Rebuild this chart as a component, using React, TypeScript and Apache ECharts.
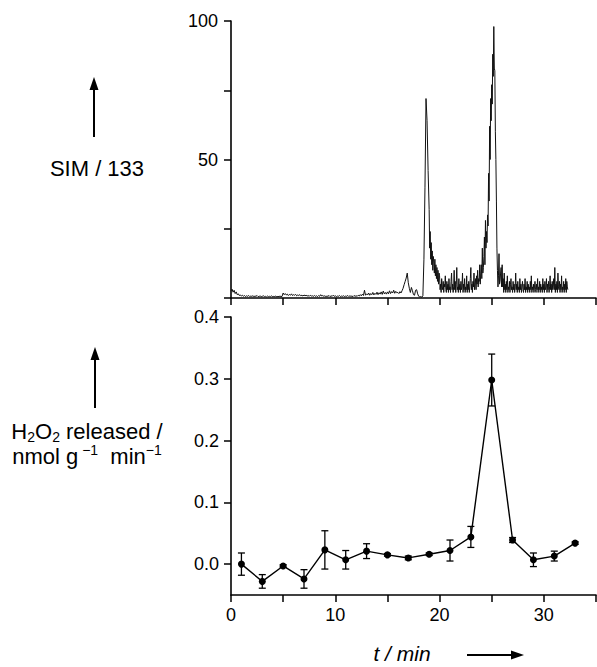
import React, { useEffect, useRef } from 'react';
import * as echarts from 'echarts';

// ---- SIM / 133 trace: each segment has its own start time and sampling step (min) ----
// 0.0 – 4.9 min, step 0.1
const simSeg1 = [
  2.5, 3.2, 2.1, 2.8, 1.6, 2.2, 1.2, 1.5, 0.9, 1.1,
  0.7, 1.0, 0.6, 0.9, 0.5, 0.8, 0.6, 0.9, 0.5, 0.7,
  0.6, 0.8, 0.5, 0.7, 0.6, 0.9, 0.5, 0.6, 0.7, 0.5,
  0.6, 0.8, 0.5, 0.6, 0.4, 0.7, 0.5, 0.6, 0.5, 0.8,
  0.4, 0.6, 0.5, 0.7, 0.4, 0.6, 0.5, 0.7, 0.5, 0.6,
];
// 5.0 – 9.9 min, step 0.1
const simSeg2 = [
  1.8, 1.2, 1.6, 1.1, 1.4, 0.9, 1.3, 1.0, 1.5, 0.9,
  1.2, 1.0, 1.3, 0.8, 1.1, 0.9, 1.2, 0.8, 1.0, 0.7,
  1.1, 0.8, 1.0, 0.7, 0.9, 0.6, 1.0, 0.7, 0.8, 0.6,
  0.9, 0.6, 0.8, 0.5, 0.9, 0.6, 1.2, 0.7, 0.9, 0.6,
  0.8, 0.5, 0.7, 0.6, 0.9, 0.5, 0.8, 0.6, 1.0, 0.6,
];
// 10.0 – 14.9 min, step 0.1
const simSeg3 = [
  0.8, 0.5, 0.7, 0.6, 0.9, 0.5, 0.7, 0.6, 0.8, 0.5,
  0.7, 0.6, 0.9, 0.5, 0.8, 0.6, 0.7, 0.5, 0.9, 0.6,
  0.8, 0.6, 1.0, 0.7, 1.2, 0.8, 1.4, 0.9, 2.8, 1.0,
  1.5, 1.1, 1.8, 1.0, 1.6, 1.2, 2.0, 1.1, 1.7, 1.3,
  2.1, 1.2, 1.9, 1.4, 2.2, 1.3, 2.5, 1.5, 2.0, 1.4,
];
// 15.0 – 18.4 min, step 0.1
const simSeg4 = [
  2.2, 1.5, 2.6, 1.6, 2.3, 1.8, 2.8, 1.7, 2.4, 1.9,
  2.0, 1.6, 2.3, 1.8, 2.6, 3.5, 4.8, 6.0, 7.2, 9.0,
  5.5, 3.5, 2.0, 3.8, 2.6, 1.2, 1.0, 2.8, 3.0, 1.5,
  0.6, 0.4, 0.5, 0.3, 0.8,
];
// 18.5 – 18.9 min, step 0.1
const simSeg5 = [14, 40, 72, 64, 46];
// 19.0 – 19.95 min, step 0.05
const simSeg6 = [32, 18, 24, 14, 20, 12, 17, 10, 15, 13, 9, 14, 8, 12, 7, 11, 6, 10, 5, 9];
// 20.0 – 23.95 min, step 0.05
const simSeg7 = [
  8, 3, 5, 2, 7, 4, 3, 6, 2, 5,
  4, 8, 3, 2, 6, 3, 5, 2, 7, 3,
  4, 2, 6, 9, 3, 5, 2, 4, 10, 3,
  6, 2, 5, 11, 3, 4, 2, 7, 3, 5,
  2, 6, 3, 4, 9, 2, 5, 3, 7, 2,
  4, 3, 8, 2, 5, 3, 6, 2, 4, 7,
  11, 3, 5, 2, 6, 4, 9, 3, 5, 7,
  3, 8, 5, 10, 4, 7, 6, 12, 5, 9,
];
// 24.0 – 25.95 min, step 0.05
const simSeg8 = [
  12, 7, 18, 9, 11, 15, 22, 12, 28, 18,
  24, 20, 30, 26, 45, 35, 62, 50, 72, 64,
  77, 70, 88, 80, 98, 83, 82, 60, 50, 35,
  18, 10, 4, 8, 16, 5, 6, 9, 11, 4,
];
// 26.0 – 32.3 min, step 0.05
const simSeg9 = [
  12, 4, 7, 2, 9, 3, 5, 2, 6, 3,
  8, 2, 4, 3, 6, 2, 5, 7, 3, 4,
  2, 6, 3, 5, 2, 4, 9, 3, 5, 2,
  6, 3, 4, 2, 7, 3, 5, 2, 4, 6,
  3, 2, 5, 3, 7, 2, 4, 3, 6, 2,
  5, 3, 4, 2, 6, 3, 8, 2, 4, 3,
  5, 2, 4, 6, 3, 2, 5, 3, 7, 2,
  4, 3, 6, 2, 5, 3, 4, 2, 7, 3,
  5, 2, 6, 3, 4, 7, 2, 5, 3, 6,
  2, 4, 8, 3, 5, 2, 6, 3, 4, 7,
  3, 11, 2, 5, 3, 6, 2, 9, 4, 3,
  6, 2, 5, 3, 8, 2, 4, 3, 6, 2,
  5, 3, 7, 2, 6, 4, 3,
];
const simSegStarts = [0, 5, 10, 15, 18.5, 19, 20, 24, 26];
const simSegSteps = [0.1, 0.1, 0.1, 0.1, 0.1, 0.05, 0.05, 0.05, 0.05];
const simSegments = [simSeg1, simSeg2, simSeg3, simSeg4, simSeg5, simSeg6, simSeg7, simSeg8, simSeg9];

// ---- H2O2 released ----
const h2o2Times = [1, 3, 5, 7, 9, 11, 13, 15, 17, 19, 21, 23, 25, 27, 29, 31, 33];
const h2o2Values = [0.0, -0.028, -0.003, -0.024, 0.023, 0.007, 0.021, 0.015, 0.01, 0.016, 0.022, 0.044, 0.298, 0.039, 0.007, 0.013, 0.034];
const h2o2Errors = [0.018, 0.011, 0.002, 0.015, 0.031, 0.015, 0.012, 0.002, 0.003, 0.002, 0.017, 0.017, 0.042, 0.004, 0.011, 0.008, 0.002];

// ---- tick labels ----
const topYLabels = [50, 100];
const bottomYTicks = [0, 0.1, 0.2, 0.3, 0.4];
const bottomXLabels = [0, 10, 20, 30];

export default function App() {
  const ref = useRef<HTMLDivElement>(null);

  useEffect(() => {
    const chart = echarts.init(ref.current!, null, { renderer: 'svg' });
    const font = '"Liberation Sans", Arial, sans-serif';

    const simData: number[][] = [];
    simSegments.forEach((seg, s) => {
      seg.forEach((v, i) => {
        simData.push([Math.round((simSegStarts[s] + i * simSegSteps[s]) * 100) / 100, v]);
      });
    });
    const h2o2Data = h2o2Times.map((t, i) => [t, h2o2Values[i]]);
    const errData = h2o2Times.map((t, i) => [t, h2o2Values[i] - h2o2Errors[i], h2o2Values[i] + h2o2Errors[i]]);

    const axisLine = { show: true, onZero: false, lineStyle: { color: '#000', width: 1.6 } };
    const axisTick = { show: true, inside: false, length: 7, lineStyle: { color: '#000', width: 1.5 } };
    const labelStyle = { color: '#000', fontSize: 18, fontFamily: font };

    chart.setOption({
      animation: false,
      grid: [
        { left: 231, top: 21, width: 365, height: 277 },
        { left: 231, top: 317, width: 365, height: 278 },
      ],
      xAxis: [
        {
          gridIndex: 0, type: 'value', min: 0, max: 35, interval: 5,
          axisLine, axisTick, axisLabel: { show: false }, splitLine: { show: false },
        },
        {
          gridIndex: 1, type: 'value', min: 0, max: 35, interval: 5,
          axisLine, axisTick,
          axisLabel: { ...labelStyle, customValues: bottomXLabels, margin: 11 },
          splitLine: { show: false },
        },
      ],
      yAxis: [
        {
          gridIndex: 0, type: 'value', min: 0, max: 100, interval: 25,
          axisLine, axisTick,
          axisLabel: { ...labelStyle, customValues: topYLabels, margin: 13 },
          splitLine: { show: false },
        },
        {
          gridIndex: 1, type: 'value', min: -0.05, max: 0.4,
          axisLine,
          axisTick: { ...axisTick, customValues: bottomYTicks },
          axisLabel: {
            ...labelStyle, customValues: bottomYTicks, margin: 12,
            formatter: (v: number) => v.toFixed(1),
          },
          splitLine: { show: false },
        },
      ],
      series: [
        {
          type: 'line', xAxisIndex: 0, yAxisIndex: 0, data: simData,
          showSymbol: false, symbol: 'none',
          lineStyle: { color: '#111', width: 1 },
        },
        {
          type: 'custom', xAxisIndex: 1, yAxisIndex: 1, data: errData,
          encode: { x: 0, y: [1, 2] },
          renderItem: (_params: any, api: any) => {
            const x = api.value(0);
            const lo = api.value(1);
            const hi = api.value(2);
            const pHi = api.coord([x, hi]);
            const pLo = api.coord([x, lo]);
            const w = 3.5;
            const style = { stroke: '#000', lineWidth: 1.3 };
            return {
              type: 'group',
              children: [
                { type: 'line', shape: { x1: pHi[0], y1: pHi[1], x2: pLo[0], y2: pLo[1] }, style },
                { type: 'line', shape: { x1: pHi[0] - w, y1: pHi[1], x2: pHi[0] + w, y2: pHi[1] }, style },
                { type: 'line', shape: { x1: pLo[0] - w, y1: pLo[1], x2: pLo[0] + w, y2: pLo[1] }, style },
              ],
            };
          },
        },
        {
          type: 'line', xAxisIndex: 1, yAxisIndex: 1, data: h2o2Data,
          symbol: 'circle', symbolSize: 7, showSymbol: true,
          itemStyle: { color: '#000' },
          lineStyle: { color: '#000', width: 1.4 },
        },
      ],
      graphic: [
        // SIM / 133 label with arrow
        { type: 'line', shape: { x1: 94, y1: 137, x2: 94, y2: 86 }, style: { stroke: '#000', lineWidth: 2 } },
        { type: 'polygon', shape: { points: [[94, 77], [89.5, 90], [98.5, 90]] }, style: { fill: '#000' } },
        {
          type: 'text', x: 97, y: 168,
          style: { text: 'SIM / 133', fontSize: 22, fontFamily: font, fill: '#000', align: 'center', verticalAlign: 'middle' },
        },
        // H2O2 label with arrow
        { type: 'line', shape: { x1: 95, y1: 408, x2: 95, y2: 356 }, style: { stroke: '#000', lineWidth: 2 } },
        { type: 'polygon', shape: { points: [[95, 347], [90.5, 360], [99.5, 360]] }, style: { fill: '#000' } },
        {
          type: 'text', x: 87, y: 431,
          style: {
            text: '{n|H}{s|2}{n|O}{s|2}{n| released /}',
            fill: '#000', align: 'center', verticalAlign: 'middle',
            rich: {
              n: { fontSize: 22, fontFamily: font, lineHeight: 26, fill: '#000' },
              s: { fontSize: 14, fontFamily: font, lineHeight: 14, verticalAlign: 'bottom', fill: '#000' },
            },
          },
        },
        {
          type: 'text', x: 87, y: 456,
          style: {
            text: '{n|nmol g}{p| −1}{n|  min}{p|−1}',
            fill: '#000', align: 'center', verticalAlign: 'middle',
            rich: {
              n: { fontSize: 22, fontFamily: font, lineHeight: 26, fill: '#000' },
              p: { fontSize: 14, fontFamily: font, lineHeight: 14, verticalAlign: 'top', fill: '#000' },
            },
          },
        },
        // t / min label with arrow
        {
          type: 'text', x: 402, y: 653,
          style: { text: 't / min', fontSize: 21, fontStyle: 'italic', fontFamily: font, fill: '#000', align: 'center', verticalAlign: 'middle' },
        },
        { type: 'line', shape: { x1: 467, y1: 655, x2: 514, y2: 655 }, style: { stroke: '#000', lineWidth: 2 } },
        { type: 'polygon', shape: { points: [[524, 655], [511, 650.5], [511, 659.5]] }, style: { fill: '#000' } },
      ],
    });

    return () => chart.dispose();
  }, []);

  return (
    <div
      ref={ref}
      style={{ position: 'fixed', left: 0, top: 0, width: 597, height: 667, background: '#fff' }}
    />
  );
}
